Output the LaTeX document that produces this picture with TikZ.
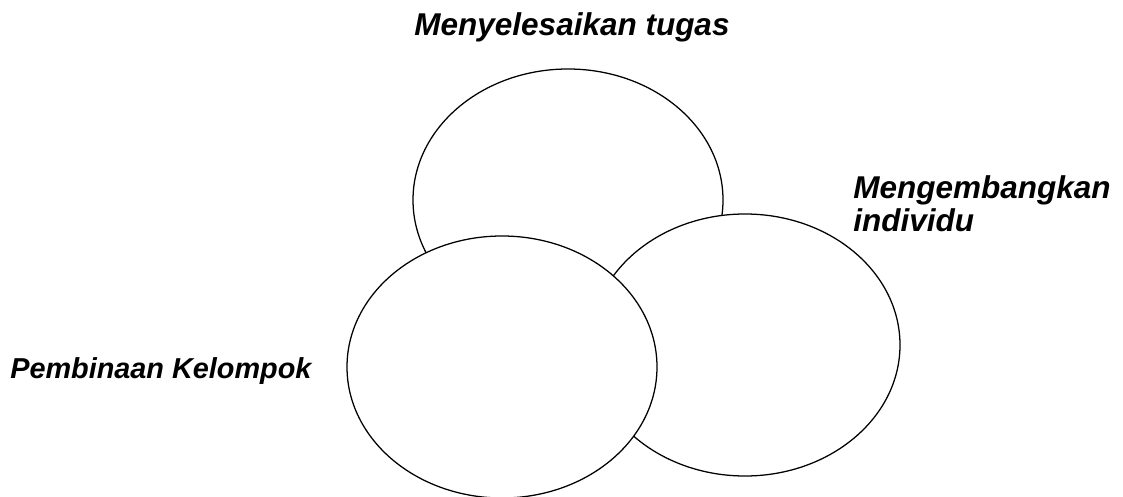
\documentclass[tikz,border=0pt]{standalone}
\usepackage{fontspec}
\setmainfont{Liberation Sans}
\usepackage{tikz}
\usetikzlibrary{positioning}
\definecolor{ink}{HTML}{000000}
\newcommand{\lingkar}[2]{\filldraw[fill=white,draw=ink,line width=0.9pt] (#1,#2) ellipse (155 and 131);}
\tikzset{judul/.style={font=\fontsize{22.4}{24.1}\selectfont\bfseries\itshape,inner sep=0pt,text=ink}}

\begin{document}
\begin{tikzpicture}[x=0.025cm,y=-0.025cm]
\useasboundingbox (0,0) rectangle (1123,497);
\lingkar{568}{200}\lingkar{745}{345}\lingkar{502}{367}
\node[judul,anchor=base] (tugas) at (572,36) {Menyelesaikan tugas};
\node[judul,anchor=base west,align=left] (individu) at (853,232) {Mengembangkan\\individu};
\node[judul,font=\fontsize{20.5}{24}\selectfont\bfseries\itshape,anchor=base west] (kelompok) at (10,378) {Pembinaan Kelompok};
\end{tikzpicture}
\end{document}
